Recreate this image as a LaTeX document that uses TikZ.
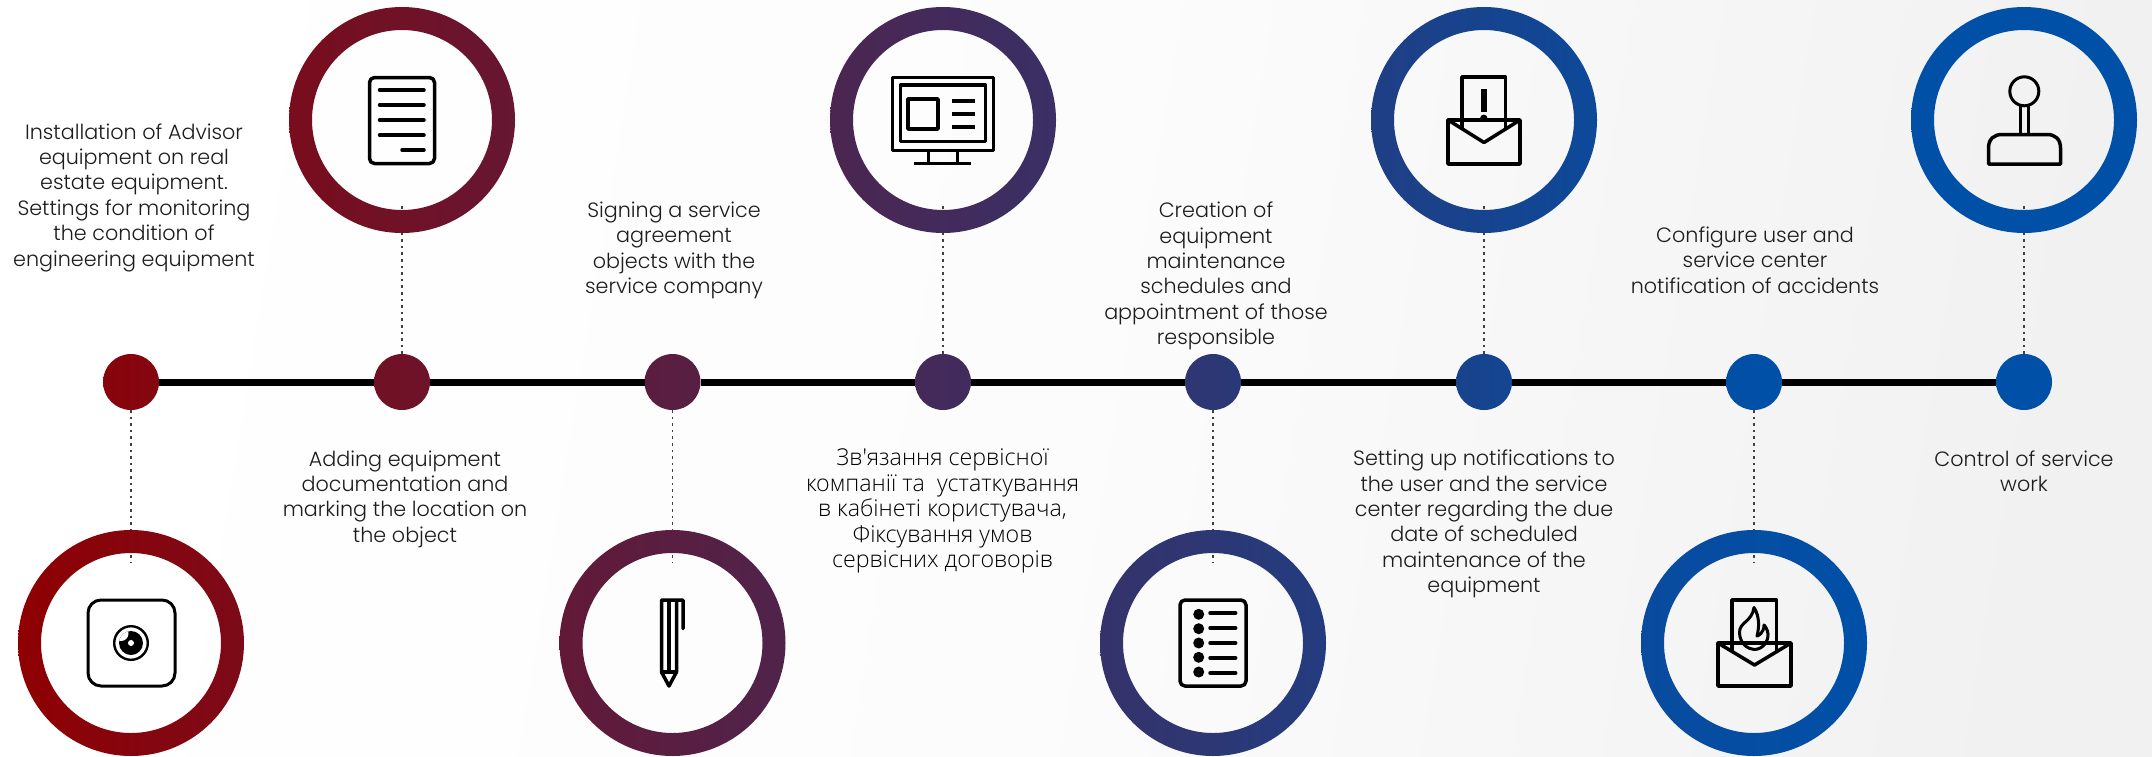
\documentclass[tikz,border=0pt]{standalone}
\usepackage{fontspec}
\setmainfont{Poppins Light}
\newfontfamily\cyrfont{Open Sans Light}
\definecolor{gradA}{HTML}{8F0003}
\definecolor{gradB}{HTML}{0050A8}
\definecolor{bgmid}{HTML}{FCFCFC}
\definecolor{bgend}{HTML}{F1F1F1}
\definecolor{txt}{HTML}{1C1C1C}
\newcommand{\gradcol}[2]{\pgfmathsetmacro\gp{max(0,min(100,100*(1-(#2-20)/1730)))}\colorlet{#1}{gradA!\gp!gradB}}
\tikzset{
  x=1pt,y=-1pt,
  dotn/.style={circle,minimum size=56pt,inner sep=0pt,outer sep=0pt},
  ringn/.style={circle,minimum size=226pt,inner sep=0pt,outer sep=0pt},
  spine/.style={line width=7pt,black},
  leader/.style={line width=1.4pt,color=black!75,dash pattern=on 2.6pt off 4pt},
  label/.style={align=center,inner sep=0pt,text=txt,font=\fontsize{20.7}{25.4}\selectfont},
  cyrlabel/.style={align=center,inner sep=0pt,text=black,font=\fontsize{23.2}{25.4}\selectfont\cyrfont},
  icon/.style={line width=3.5pt,black,line join=round},
  iconr/.style={line width=3.5pt,black,line cap=round,line join=round},
}
\newcommand{\ringat}[2]{%
  \gradcol{gl}{#2-113}\gradcol{gr}{#2+113}%
  \shade[even odd rule,left color=gl,right color=gr] (#1.center) circle (113pt) (#1.center) circle (90pt);}
\begin{document}
\begin{tikzpicture}
\useasboundingbox (0,0) rectangle (2152,756);
\shade[top color=white,bottom color=bgend,middle color=bgmid,shading angle=80.7] (0,0) rectangle (2152,756);

% timeline dots
\foreach \n/\x in {1/131,2/402,3/672.5,4/943,5/1213,6/1484,7/1754,8/2024}{
  \gradcol{gl}{\x-28}\gradcol{gr}{\x+28}
  \node[dotn,left color=gl,right color=gr] (d\n) at (\x,382) {};
}
\draw[spine] (d1) -- (d2);
\draw[spine] (d2) -- (d3);
\draw[spine] (d3) -- (d4);
\draw[spine] (d4) -- (d5);
\draw[spine] (d5) -- (d6);
\draw[spine] (d6) -- (d7);
\draw[spine] (d7) -- (d8);

% ring anchors and leaders
\node[ringn] (r1) at (131,643) {};
\node[ringn] (r2) at (402,120) {};
\node[ringn] (r3) at (672.5,643) {};
\node[ringn] (r4) at (943,120) {};
\node[ringn] (r5) at (1213,643) {};
\node[ringn] (r6) at (1484,120) {};
\node[ringn] (r7) at (1754,643) {};
\node[ringn] (r8) at (2024,120) {};
\coordinate (c1) at (131,562);
\coordinate (c2) at (402,204);
\coordinate (c3) at (672.5,562);
\coordinate (c4) at (943,204);
\coordinate (c5) at (1213,562);
\coordinate (c6) at (1484,204);
\coordinate (c7) at (1754,562);
\coordinate (c8) at (2024,204);
\foreach \n in {1,3,5,7}{\draw[leader] (d\n.south) -- (c\n);}
\foreach \n in {2,4,6,8}{\draw[leader] (d\n.north) -- (c\n);}
\ringat{r1}{131}
\ringat{r2}{402}
\ringat{r3}{672.5}
\ringat{r4}{943}
\ringat{r5}{1213}
\ringat{r6}{1484}
\ringat{r7}{1754}
\ringat{r8}{2024}

% texts
\node[label] (t1) at (134,197.5) {Installation of Advisor\\equipment on real\\estate equipment.\\Settings for monitoring\\the condition of\\engineering equipment};
\node[label] (t2) at (405,499) {Adding equipment\\documentation and\\marking the location on\\the object};
\node[label] (t3) at (674,250.5) {Signing a service\\agreement\\objects with the\\service company};
\node[cyrlabel] (t4) at (942.5,511) {Зв'язання сервісної\\компанії та\ \ устаткування\\в кабінеті користувача,\\Фіксування умов\\сервісних договорів};
\node[label] (t5) at (1216,276) {Creation of\\equipment\\maintenance\\schedules and\\appointment of those\\responsible};
\node[label] (t6) at (1484,524) {Setting up notifications to\\the user and the service\\center regarding the due\\date of scheduled\\maintenance of the\\equipment};
\node[label] (t7) at (1755,260) {Configure user and\\service center\\notification of accidents};
\node[label] (t8) at (2024,471) {Control of service\\work};

% icon 1: camera
\draw[icon,line width=3pt,rounded corners=13pt] (88,600) rectangle (175,686);
\draw[black,line width=2.4pt] (131,643) circle (16.8pt);
\fill[black] (131,643) circle (12pt);
\begin{scope}
\clip (131,643) circle (12pt);
\fill[white] (121,633.5) circle (7.5pt);
\end{scope}
\fill[white] (131,643) circle (3pt);

% icon 2: document
\draw[icon,rounded corners=5pt] (369.5,77.5) rectangle (434.5,163.5);
\foreach \yy in {90,105,120,135}{\draw[iconr] (379.5,\yy) -- (424,\yy);}
\draw[iconr] (402,150) -- (424,150);

% icon 3: pencil
\draw[icon,line cap=round] (683,628.5) -- (683,600) -- (661.5,600) -- (661.5,672) -- (669,686) -- (676.5,672) -- (676.5,600);
\draw[icon] (669,600) -- (669,672);
\draw[icon] (661.5,672) -- (676.5,672);

% icon 4: monitor
\draw[icon,line width=3pt] (892.5,77.5) rectangle (993,150);
\draw[icon] (900.5,85) rectangle (985.5,141.5);
\draw[icon] (908,99) rectangle (938,129);
\foreach \yy in {100.5,113.5,126.5}{\draw[line width=4pt,black] (952,\yy) -- (975,\yy);}
\draw[icon,line width=3pt] (928,150) -- (928,163.5);
\draw[icon,line width=3pt] (957,150) -- (957,163.5);
\draw[icon,line width=3.5pt] (914,163.5) -- (971,163.5);

% icon 5: list
\draw[icon,rounded corners=5pt] (1180,600) rectangle (1246,686);
\foreach \yd/\yl in {614.3/613,628.7/628,643/643,657.3/658,672/673}{
  \fill[black] (1198.7,\yd) circle (5.5pt);
  \draw[iconr] (1210,\yl) -- (1235.7,\yl);
}

% icon 6: envelope with exclamation
\draw[icon] (1448,120) rectangle (1520,164);
\draw[icon] (1448,120) -- (1484,142.5) -- (1520,120);
\draw[icon] (1462,128.5) -- (1462,77) -- (1505.5,77) -- (1505.5,128.5);
\fill[black] (1480.8,89) rectangle (1486.8,111.5);
\fill[black] (1483.8,118.3) circle (3.7pt);

% icon 7: envelope with flame
\draw[icon] (1718,643) rectangle (1791,686);
\draw[icon] (1718,643) -- (1754.5,665) -- (1791,643);
\draw[icon] (1732,652) -- (1732,600) -- (1776.5,600) -- (1776.5,652);
\draw[icon,line width=3pt] (1754,607.5) .. controls (1752,622) and (1739,622) .. (1739.5,633)
  .. controls (1740,644) and (1748,649) .. (1754,649.5)
  .. controls (1763,649.5) and (1768.5,641) .. (1768,634)
  .. controls (1767.5,629) and (1765,626) .. (1764,625)
  .. controls (1764,633) and (1758,636) .. (1757,636)
  .. controls (1759,628) and (1760,617) .. (1754,607.5) -- cycle;

% icon 8: joystick
\draw[icon,line width=3pt] (2024.3,91.3) circle (14.5pt);
\draw[icon,line width=3pt] (2020.7,105.5) -- (2020.7,134);
\draw[icon,line width=3pt] (2028.3,105.5) -- (2028.3,134);
\draw[icon] (1988.5,164) -- (1988.5,148) .. controls (1988.5,139) and (1994,134.5) .. (2002,134.5) -- (2047,134.5) .. controls (2055,134.5) and (2060.5,139) .. (2060.5,148) -- (2060.5,164) -- cycle;
\end{tikzpicture}
\end{document}
